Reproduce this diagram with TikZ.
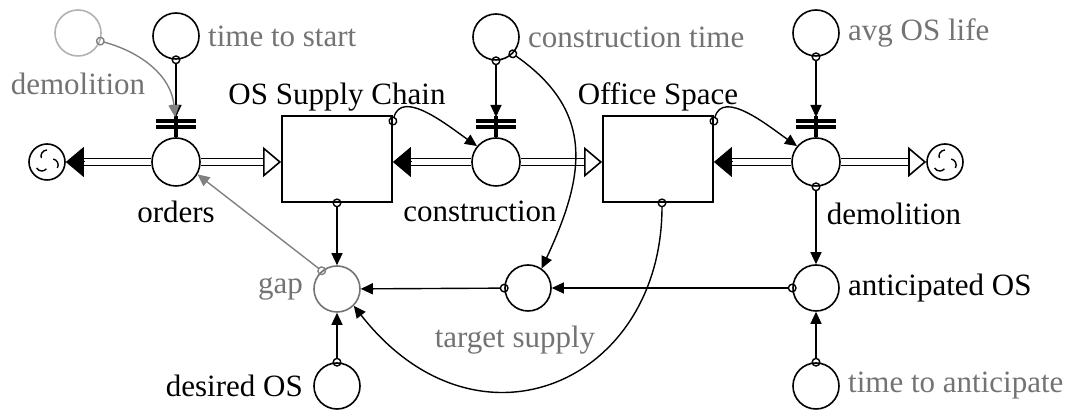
\documentclass[tikz,border=0pt]{standalone}
\usepackage{fontspec}
\setmainfont{Liberation Serif}
\usetikzlibrary{arrows.meta,positioning}

\begin{document}
\begin{tikzpicture}
	[x=0.5pt,y=0.5pt,
	every node/.style={font=\fontsize{15.5}{18}\selectfont,inner sep=2pt},
	var/.style={shape=circle,draw,line width=0.8pt,minimum size=23pt,inner sep=0pt},
	valve/.style={var,minimum size=24pt},
	stock/.style={shape=rectangle,draw,line width=0.9pt,minimum width=55pt,minimum height=43pt},
	cloud/.style={shape=circle,draw,line width=0.8pt,minimum size=18pt,inner sep=0pt},
	lbl/.style={text=black!55},
	pipe/.style={double=white,double distance=2.6pt,line width=0.8pt},
	fulltip/.style={-{Triangle[length=9pt,width=15pt]},line width=0.5pt},
	opentip/.style={-{Triangle[open,length=9pt,width=15pt]},line width=0.8pt},
	link/.style={{Circle[open,length=4.5pt]}-{Triangle[length=6pt,width=5.5pt]},line width=0.7pt,shorten <=-2.25pt},
	glink/.style={link,black!50}]
	\useasboundingbox (0,0) rectangle (1073,-410);
	% stocks, flows and clouds
	\node[cloud] (cloudL) at (47,-162) {};
	\node[cloud] (cloudR) at (945,-162) {};
	\node[valve,label={[label distance=5pt]below:orders}] (orders) at (176,-162) {};
	\node[valve,label={[label distance=5pt,xshift=-8pt]below:construction}] (cons) at (496,-162) {};
	\node[valve,label={[anchor=north west,label distance=6pt]-80:demolition}] (demol) at (816,-162) {};
	\node[stock,label={[label distance=0pt]above:OS Supply Chain}] (supply) at (337,-159) {};
	\node[stock,label={[label distance=0pt]above:Office Space}] (office) at (658,-159) {};
	% auxiliaries
	\node[var,label={[lbl,label distance=2pt]right:time to start}] (tstart) at (176,-36) {};
	\node[var,label={[lbl,label distance=2pt]right:construction time}] (ctime) at (496,-37) {};
	\node[var,label={[lbl,label distance=2pt]right:avg OS life}] (life) at (816,-33) {};
	\node[var,draw=black!30,label={[lbl,label distance=6pt]below:demolition}] (ghost) at (78,-33) {};
	\node[var,draw=black!55,label={[lbl,label distance=3pt]left:gap}] (gap) at (337,-289) {};
	\node[var,label={[label distance=3pt]left:desired OS}] (desired) at (337,-386) {};
	\node[var,label={[lbl,label distance=5pt,xshift=-6.5pt]below:target supply}] (target) at (528,-288) {};
	\node[var,label={[label distance=2pt]right:anticipated OS}] (antic) at (816,-288) {};
	\node[var,label={[lbl,label distance=2pt]right:time to anticipate}] (tantic) at (816,-386) {};

	\foreach \c in {cloudL,cloudR}
		\foreach \a in {90,210,330}
			\draw[line width=0.7pt] ([shift={(\a:6pt)}]\c.center) arc[start angle=\a,delta angle=110,radius=3pt];
	\foreach \v in {orders,cons,demol} {
		\draw[line width=1.6pt] ([shift={(-20,41)}]\v.center) -- ++(40,0)
			([shift={(-20,35)}]\v.center) -- ++(40,0);
		\draw[line width=2pt] ([yshift=23pt]\v.center) -- (\v.north);
	}

	% pipes
	\coordinate (inS) at (supply.west |- orders);
	\coordinate (outS) at (supply.east |- cons);
	\coordinate (inO) at (office.west |- cons);
	\coordinate (outO) at (office.east |- demol);
	\draw[pipe] (orders) -- ([xshift=9pt]cloudL.east);
	\draw[fulltip] ([xshift=9pt]cloudL.east) -- (cloudL);
	\draw[pipe] (orders) -- ([xshift=-9pt]inS);
	\draw[opentip] ([xshift=-9pt]inS) -- (inS);
	\draw[pipe] (cons) -- ([xshift=9pt]outS);
	\draw[fulltip] ([xshift=9pt]outS) -- (outS);
	\draw[pipe] (cons) -- ([xshift=-9pt]inO);
	\draw[opentip] ([xshift=-9pt]inO) -- (inO);
	\draw[pipe] (demol) -- ([xshift=9pt]outO);
	\draw[fulltip] ([xshift=9pt]outO) -- (outO);
	\draw[pipe] (demol) -- ([xshift=-9pt]cloudR.west);
	\draw[opentip] ([xshift=-9pt]cloudR.west) -- (cloudR);

	% causal links
	\draw[link] (tstart) -- ([yshift=22.5pt]orders.center);
	\draw[glink] (ghost.-20) to[out=-15,in=95] ([xshift=-0.5pt,yshift=22.5pt]orders.center);
	\draw[link] (ctime) -- ([yshift=22.5pt]cons.center);
	\draw[link] (life) -- ([yshift=22.5pt]demol.center);
	\draw[link] ([yshift=-3pt]supply.north east) to[out=75,in=145] (cons.140);
	\draw[link] ([yshift=-3pt]office.north east) to[out=75,in=145] (demol.140);
	\draw[link] (ctime.-45) to[out=-35,in=65,looseness=1.2] (target.55);
	\draw[link] (demol) -- (antic);
	\draw[link] (antic) -- (target);
	\draw[link] (target) -- (gap);
	\draw[link] (supply.south) -- (gap);
	\draw[glink] (gap.130) -- (orders.-30);
	\draw[link] (desired) -- (gap);
	\draw[link] (tantic) -- (antic);
	\draw[link] ([xshift=2pt]office.south) to[out=-90,in=-52,out distance=90pt,in distance=100pt] (gap.-45);
\end{tikzpicture}
\end{document}
